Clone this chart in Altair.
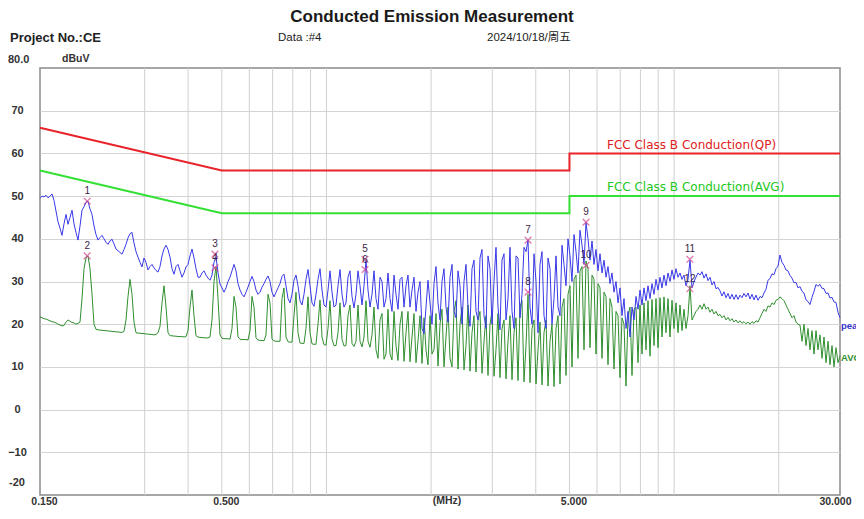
import numpy as np
import pandas as pd
import altair as alt

# ---- sweep (receiver scan from 0.15 MHz to 30 MHz, 401 points) ----
START_MHZ, STOP_MHZ, N_POINTS = 0.15, 30.0, 401
sweep_f = np.geomspace(START_MHZ, STOP_MHZ, N_POINTS)

# ---- peak trace readings (dBuV) ----
peak = [
    49.5, 50, 49.8, 50.2, 49.6, 50, 50.5, 49, 46.5, 44, 42.5, 40.8, 43.5, 45.7, 43.4, 45, 46.7, 43.5, 41.5, 39.7,
    43, 46.7, 47.5, 48.5, 48.8, 47, 45.7, 43, 41, 39.7, 40.3, 40.8, 40, 39.2, 38.7, 39.5, 39.9, 38.8, 37.6, 37.2,
    36.8, 36.4, 37.5, 38.7, 40.2, 41.2, 41.5, 39, 37, 35.7, 34.5, 33.4, 35.5, 34.5, 32.7, 33.5, 34, 33.2, 32.6, 32.2,
    33.5, 36, 37.6, 38.5, 37.5, 35.7, 33, 31.7, 33.5, 34, 32.5, 31, 32, 33.4, 34, 36, 37.6, 35.5, 33, 31,
    31, 32, 32.5, 31.5, 30.8, 30.3, 31.5, 34.5, 35.8, 32, 29.4, 28.5, 27.5, 28.5, 30, 31, 32.5, 34, 32.5, 29.5,
    28, 27, 26.4, 27.5, 28.7, 30, 31.2, 30, 28, 27, 27.5, 28.7, 29.5, 30.5, 31.3, 30, 27.5, 26.4, 27.5, 28.5,
    29.5, 31.2, 31.7, 29, 26, 25, 27, 30.3, 31.5, 29, 25.5, 24.5, 27, 30.5, 32.8, 29, 25, 24.2, 27, 30.5,
    33, 28, 24.5, 24, 28, 32.5, 27.5, 24, 24.5, 29, 32.8, 27, 24, 25, 31, 32.5, 26.5, 23.8, 27, 32.5,
    29, 24.5, 29, 35, 28, 24, 27, 32.5, 26, 23.5, 31, 30, 24, 26, 32, 26, 23, 31.5, 27, 23.5,
    30.5, 31, 24, 29, 31.5, 24, 28, 31, 23, 27.5, 30, 19, 17.8, 24, 30.3, 25, 20, 29.5, 33.5, 25,
    21, 30, 33, 24, 20.5, 31, 34, 23, 21.5, 32.5, 29, 20, 30, 34, 24, 19.5, 33, 35, 23, 21,
    35.5, 37.5, 22, 19, 36, 33, 20, 30, 38, 24, 18.7, 35, 36.5, 21, 26, 38, 23, 19, 36, 35.5,
    21.5, 27, 38, 37, 39.7, 24, 20, 36.5, 30, 18, 34, 37, 22, 19, 35.5, 33, 20, 26, 36, 24,
    22, 38.5, 34, 29, 40, 36, 30, 41, 37, 32, 42, 38.5, 34, 43.8, 40, 35, 39.5, 34, 37.5, 32.5,
    36.5, 32, 35, 31, 33.5, 29.5, 32, 27.5, 30, 25, 28.5, 22, 26, 19, 23, 17, 24, 21, 26.5, 23.5,
    28, 24.5, 28.5, 25.5, 29, 26, 29.5, 27, 30.5, 28, 31, 28.5, 31.5, 29, 32, 30, 32.7, 30.5, 33, 31,
    32, 30.5, 31.5, 29, 30.5, 35, 28.5, 30, 31, 32, 31.5, 32.3, 30.8, 31.8, 30.2, 31, 29.2, 30, 28.3, 28.6,
    27.8, 26.6, 27.6, 26.2, 27.2, 25.9, 27, 25.8, 26.9, 25.8, 26.8, 26.2, 27.2, 26.4, 27.3, 25.9, 27, 25.7, 26.8, 25.6,
    26.5, 26.2, 27.3, 28.2, 30.3, 30.7, 31.8, 31.6, 33, 33.6, 36.2, 34.5, 33.8, 32.7, 32.5, 31.4, 30.8, 29.7, 29.8, 28.5,
    28.8, 27.7, 27.3, 25.7, 25.3, 24.6, 26.3, 27.7, 29.3, 28.9, 29.3, 28.4, 28.3, 27.2, 27.3, 26.1, 26.3, 25.2, 25.1, 22.8,
    21.5,
]

# ---- average trace readings (dBuV) ----
avg = [
    21.7, 21.5, 21.3, 21.2, 21, 20.8, 20.6, 20.5, 20.3, 20, 19.8, 19.6, 19.7, 20.5, 21, 20.7, 20.4, 20.3, 20, 20.2,
    20.5, 26, 33, 35.5, 36, 33, 27, 20, 18.8, 18.7, 18.6, 18.6, 18.5, 18.5, 18.4, 18.4, 18.3, 18.3, 18.2, 18.2,
    18.1, 18.1, 18.3, 21, 26.5, 30.5, 27, 20.5, 18, 17.9, 17.9, 17.8, 17.8, 17.7, 17.7, 17.6, 17.6, 17.5, 17.6, 18,
    19.5, 25, 29, 24, 18, 17.3, 17.3, 17.2, 17.2, 17.1, 17.1, 17.1, 17, 17.1, 18.5, 24, 28, 22, 17.3, 17,
    16.9, 16.9, 16.8, 16.8, 16.8, 17, 21, 30, 33.5, 26, 17.5, 16.7, 16.6, 16.6, 16.6, 16.5, 19, 26.5, 24, 17,
    16.5, 16.4, 16.4, 16.4, 16.3, 18.5, 26.5, 24, 16.8, 16.3, 16.2, 16.2, 16.1, 17.5, 27, 25, 16.5, 16.1, 16, 16,
    16, 26, 28.5, 17, 15.9, 15.8, 15.8, 22, 27.5, 18, 15.6, 15.5, 15.5, 19, 26.4, 18, 15.4, 15.3, 15.3, 20,
    25.7, 17, 15.2, 15.1, 19, 25.5, 16.5, 15, 15, 18, 25, 16.5, 14.9, 15, 22, 24.5, 15.5, 14.8, 16, 24.5,
    16, 14.7, 17, 25.5, 16, 14.6, 17.5, 24, 14, 12, 21, 22.5, 11.8, 13, 23.5, 13, 11.6, 23, 15, 11.5,
    20, 23, 11.3, 18, 23, 11.2, 17, 22.5, 11, 16, 22, 10.8, 21.5, 14, 10.5, 22, 13, 14, 22.5, 10.2,
    20, 23.5, 10, 17, 24, 12, 10, 23, 25.5, 9.5, 20, 24, 9.3, 15, 24.5, 9, 18, 22, 8.8, 21,
    23, 8.5, 16, 22, 8, 20, 23, 7.8, 14, 22.5, 7.5, 19, 21, 7.2, 16, 22, 7, 18, 21.5, 6.8,
    24, 25.5, 6.5, 15, 27, 6.3, 19, 21, 6, 14, 20.5, 5.8, 18, 21, 5.5, 16, 20, 5.4, 19, 22,
    6, 24, 26, 8, 27, 29, 10, 30.5, 31.5, 12, 32.5, 33.5, 14, 34.8, 33, 14.5, 31.5, 30.5, 13, 29.5,
    28.5, 12, 27.5, 26.5, 10.5, 26, 24, 9.5, 23, 22, 7.5, 21.5, 20, 5.5, 22, 24, 8, 23.5, 24, 11,
    24.5, 13, 25, 14, 25.5, 12.5, 25.8, 15, 26, 14.5, 26.2, 17, 26.4, 18, 26, 17, 25.6, 19, 25, 18,
    24.5, 18.5, 23.5, 19, 22, 29, 21, 22, 23, 23.5, 24.5, 23.5, 24.8, 23.5, 24, 22.8, 23.5, 22.4, 23, 22,
    22.3, 21.5, 22, 21, 21.6, 20.8, 21.3, 20.5, 21, 20.3, 20.8, 20.2, 20.6, 20.1, 20.5, 20, 20.6, 20.2, 20.8, 20.5,
    21.5, 22.5, 23.5, 23, 24.3, 24, 25, 24.6, 25.6, 25.8, 26.4, 26, 25.5, 24.5, 23.5, 22.5, 21.5, 22, 20.5, 20,
    19.8, 16, 20, 15, 19, 14, 18.5, 13, 18.5, 14, 17.5, 12, 17, 11, 16, 10.5, 15, 10, 14.5, 11,
    12.5,
]
assert len(peak) == N_POINTS and len(avg) == N_POINTS

# ---- limit lines (FCC Class B conducted) ----
limit_f = [0.15, 0.5, 5.0, 5.0, 30.0]
qp_limit = [66, 56, 56, 60, 60]
avg_limit = [56, 46, 46, 50, 50]

# ---- measurement markers ----
mk_f = [0.205, 0.205, 0.478, 0.478, 1.291, 1.291, 3.80, 3.80, 5.58, 5.58, 11.1, 11.1]
mk_v = [48.8, 36.0, 36.4, 33.2, 35.2, 32.8, 39.7, 27.5, 43.9, 33.8, 35.2, 28.3]
mk_n = [str(i) for i in range(1, 13)]

# ---- axes ----
x_ticks = [0.15, 0.5, 5.0, 30.0]
y_ticks = [-10, 0, 10, 20, 30, 40, 50, 60, 70]
grid_f = [0.3, 0.4, 0.5, 0.6, 0.7, 0.8, 0.9, 1, 2, 3, 4, 5, 6, 7, 8, 9, 10, 20]

W, H = 800, 427
FONT = "Liberation Sans"

X = alt.X("f:Q", scale=alt.Scale(type="log", domain=[0.15, 30], nice=False),
          axis=alt.Axis(values=x_ticks, format=".3f", ticks=False, domain=False, grid=False,
                        labelFlush=False, labelPadding=1,
                        labelOffset={"condition": {"test": "datum.value >= 30", "value": -5}, "value": 4},
                        labelFontSize=10.5,
                        labelFont=FONT, labelFontWeight="bold", labelColor="#333333",
                        labelBaseline="top", title=None))
Y = alt.Y("v:Q", scale=alt.Scale(domain=[-20, 80], nice=False),
          axis=alt.Axis(values=y_ticks, format="d", ticks=False, domain=False, grid=True,
                        gridColor="#d4d4d4", gridWidth=1, labelAlign="center", labelPadding=23,
                        labelFontSize=11, labelFont=FONT, labelFontWeight="bold",
                        labelColor="#333333", title=None))

trace_df = pd.DataFrame({"f": sweep_f, "peak": peak, "avg": avg, "i": np.arange(N_POINTS)})
limit_df = pd.DataFrame({"f": limit_f, "qp": qp_limit, "av": avg_limit, "i": range(len(limit_f))})
grid_df = pd.DataFrame({"f": grid_f})
mk_df = pd.DataFrame({"f": mk_f, "v": mk_v, "n": mk_n})

vgrid = alt.Chart(grid_df).mark_rule(color="#d0d0d0", strokeWidth=1).encode(
    x=X, y=alt.value(0), y2=alt.value(H))

qp_line = alt.Chart(limit_df).transform_calculate(v="datum.qp").mark_line(
    color="#e8232a", strokeWidth=2).encode(x=X, y=Y, order="i:Q")
av_line = alt.Chart(limit_df).transform_calculate(v="datum.av").mark_line(
    color="#33e033", strokeWidth=2).encode(x=X, y=Y, order="i:Q")

avg_trace = alt.Chart(trace_df).transform_calculate(v="datum.avg").mark_line(
    color="#2f8f2f", strokeWidth=1).encode(x=X, y=Y, order="i:Q")
peak_trace = alt.Chart(trace_df).transform_calculate(v="datum.peak").mark_line(
    color="#3838e8", strokeWidth=1).encode(x=X, y=Y, order="i:Q")

mk_pts = alt.Chart(mk_df).mark_point(
    shape="M-1,-1L1,1M-1,1L1,-1", size=45, strokeWidth=1.3, color="#d0408a", filled=False
).encode(x=X, y=Y)
mk_txt = alt.Chart(mk_df).mark_text(
    dy=-10, fontSize=10, font=FONT, color="#3a2448"
).encode(x=X, y=Y, text="n:N")


def label(text, x, y, size=11, weight="normal", align="left", color="#222222", font=FONT):
    return alt.Chart(pd.DataFrame({"t": [text]})).mark_text(
        fontSize=size, fontWeight=weight, align=align, baseline="middle", color=color, font=font
    ).encode(x=alt.value(x), y=alt.value(y), text="t:N")


texts = [
    label("Conducted Emission Measurement", 392, -51, size=17, weight="bold", align="center", color="#1a1a1a"),
    label("Project No.:CE", -30, -30, size=13, weight="bold"),
    label("Data :#4", 238, -30, size=11.5),
    label("2024/10/18/周五", 447, -30, size=11.5, font="Liberation Sans, Noto Sans CJK SC"),
    label("80.0", -32, -8, size=11, weight="bold", color="#333333"),
    label("dBuV", 22, -9, size=10.5, weight="bold", color="#333333"),
    label("-20", -23, 415, size=11, weight="bold", align="center", color="#333333"),
    label("(MHz)", 407, 433, size=10.5, weight="bold", align="center", color="#333333"),
    label("FCC Class B Conduction(QP)", 567, 77, size=12, color="#e02020", font="DejaVu Sans"),
    label("FCC Class B Conduction(AVG)", 567, 119, size=12, color="#22c822", font="DejaVu Sans"),
    label("peak", 801, 258, size=9.5, weight="bold", color="#3333cc"),
    label("AVG", 801, 290, size=9.5, weight="bold", color="#2f8f2f"),
]

chart = alt.layer(
    vgrid, qp_line, av_line, avg_trace, peak_trace, mk_pts, mk_txt, *texts
).properties(
    width=W, height=H,
    padding={"left": 32, "top": 60, "right": 16, "bottom": 12},
    autosize=alt.AutoSizeParams(type="none"),
    background="white",
).configure_view(stroke="#8a8a8a", strokeWidth=1.5)

chart.save("out.html", embed_options={"renderer": "svg", "actions": False})
